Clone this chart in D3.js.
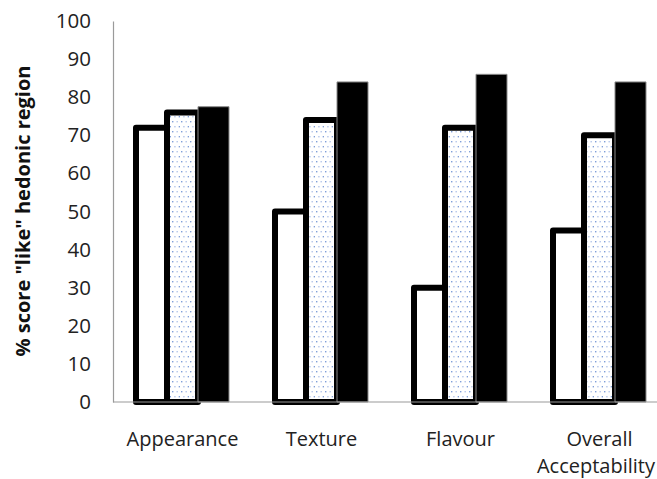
<!DOCTYPE html>
<html>
<head>
<meta charset="utf-8">
<script src="https://cdn.jsdelivr.net/npm/d3@7"></script>
<style>
  html, body { margin: 0; padding: 0; background: #fff; overflow: hidden; }
  svg { display: block; }
</style>
</head>
<body>
<script>
// Sensory attributes along the x axis
const categories = ["Appearance", "Texture", "Flavour", "Overall Acceptability"];
// Three samples, one bar each per attribute (% of panel scoring in the "like" region)
const seriesNames = ["sampleA", "sampleB", "sampleC"];
const sampleA = [72, 50, 30, 45];
const sampleB = [76, 74, 72, 70];
const sampleC = [77.5, 84, 86, 84];
const yTicks = [0, 10, 20, 30, 40, 50, 60, 70, 80, 90, 100];
const yTitle = '% score "like" hedonic region';

const values = [sampleA, sampleB, sampleC];
const W = 657, H = 479;
const margin = { left: 113, top: 21, bottom: 402 };

const svg = d3.select("body").append("svg")
  .attr("width", W).attr("height", H);

// Dotted fill for the second sample
const defs = svg.append("defs");
const pat = defs.append("pattern")
  .attr("id", "dots").attr("patternUnits", "userSpaceOnUse")
  .attr("width", 9).attr("height", 10);
pat.append("rect").attr("width", 9).attr("height", 10).attr("fill", "#fff");
pat.append("rect").attr("x", 1).attr("y", 1).attr("width", 1.4).attr("height", 1.4).attr("fill", "#7f9fd8");
pat.append("rect").attr("x", 5.5).attr("y", 1).attr("width", 1.4).attr("height", 1.4).attr("fill", "#b4c6ea");
pat.append("rect").attr("x", 3.2).attr("y", 6).attr("width", 1.4).attr("height", 1.4).attr("fill", "#b4c6ea");
pat.append("rect").attr("x", 7.7).attr("y", 6).attr("width", 1.4).attr("height", 1.4).attr("fill", "#7f9fd8");

const x0 = d3.scaleBand().domain(categories)
  .range([margin.left, margin.left + 4 * 139]);
const x1 = d3.scaleBand().domain(seriesNames).range([23, 116]);
const y = d3.scaleLinear().domain([0, 100]).range([margin.bottom, margin.top]);

// Bars
const styles = [
  { fill: "#fff", stroke: "#000", sw: 6 },
  { fill: "url(#dots)", stroke: "#000", sw: 6 },
  { fill: "#000", stroke: "#8a8a8a", sw: 1 }
];
const groups = svg.append("g");
seriesNames.forEach((s, si) => {
  groups.append("g").selectAll("rect")
    .data(categories.map((c, ci) => ({ c, v: values[si][ci] })))
    .join("rect")
    .attr("x", d => x0(d.c) + x1(s))
    .attr("y", d => y(d.v))
    .attr("width", x1.bandwidth())
    .attr("height", d => y(0) - y(d.v))
    .attr("fill", styles[si].fill)
    .attr("stroke", styles[si].stroke)
    .attr("stroke-width", styles[si].sw)
    .attr("stroke-linejoin", "round");
});

// Axes
const yAxis = d3.axisLeft(y).tickValues(yTicks).tickSize(0).tickPadding(22);
const gy = svg.append("g").attr("transform", `translate(${margin.left},0)`).call(yAxis);
gy.select(".domain").attr("stroke", "#9a9a9a").attr("stroke-width", 1.2);
gy.selectAll("text")
  .attr("font-family", "'Open Sans', sans-serif")
  .attr("font-size", 20.5).attr("fill", "#222");

svg.append("line")
  .attr("x1", margin.left).attr("x2", W)
  .attr("y1", y(0)).attr("y2", y(0))
  .attr("stroke", "#9a9a9a").attr("stroke-width", 1.2);

// Category labels (wrapped onto two lines where needed, kept inside the page)
const labels = svg.append("g")
  .attr("font-family", "'Open Sans', sans-serif")
  .attr("font-size", 20).attr("fill", "#222")
  .attr("text-anchor", "middle");
categories.forEach(c => {
  const words = c.split(" ");
  const cx = x0(c) + x0.bandwidth() / 2;
  const t = labels.append("text").attr("x", cx).attr("y", 446);
  words.forEach((w, i) => {
    const ts = t.append("tspan")
      .attr("x", cx)
      .attr("dy", i === 0 ? 0 : 27)
      .text(w);
    const half = ts.node().getComputedTextLength() / 2;
    if (cx + half > W - 2) ts.attr("x", W - 2 - half);
  });
});

// Y axis title
svg.append("text")
  .attr("transform", "translate(30,211) rotate(-90)")
  .attr("text-anchor", "middle")
  .attr("font-family", "'Open Sans', sans-serif")
  .attr("font-weight", "bold")
  .attr("font-size", 20)
  .attr("fill", "#111")
  .text(yTitle);
</script>
</body>
</html>
